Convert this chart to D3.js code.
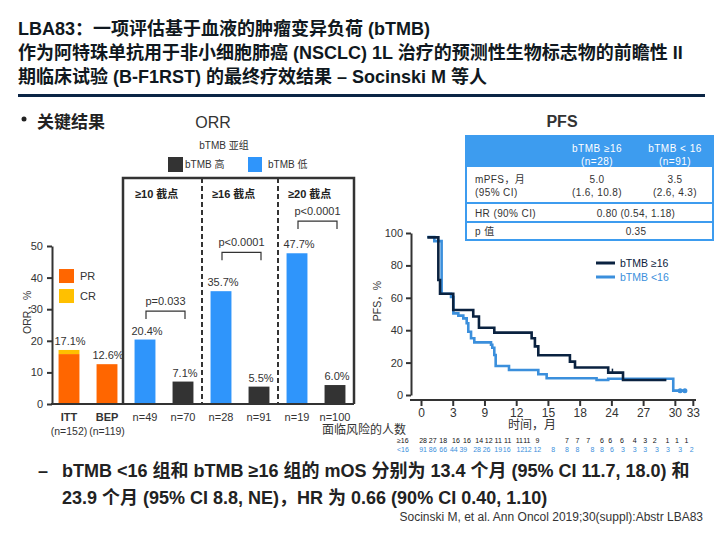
<!DOCTYPE html>
<html><head><meta charset="utf-8">
<script src="https://cdn.jsdelivr.net/npm/d3@7"></script>
<style>
body{margin:0;background:#fff;}
svg{font-family:"Liberation Sans","Noto Sans CJK SC",Arial,sans-serif;}
</style></head>
<body><svg id="c" width="720" height="540"></svg>
<script>
// ---------- DATA ----------
const titleLines = [
  "LBA83：一项评估基于血液的肿瘤变异负荷 (bTMB)",
  "作为阿特珠单抗用于非小细胞肺癌 (NSCLC) 1L 治疗的预测性生物标志物的前瞻性 II",
  "期临床试验 (B-F1RST) 的最终疗效结果 – Socinski M 等人"
];
const orrCats = ["ITT","BEP","n=49","n=70","n=28","n=91","n=19","n=100"];
const orrGroups = ["all","all","high","low","high","low","high","low"];
const orrPR = [15.8, 12.6, 20.4, 7.1, 35.7, 5.5, 47.7, 6.0];
const orrCR = [1.3, 0, 0, 0, 0, 0, 0, 0];
const orrLabels = ["17.1%","12.6%","20.4%","7.1%","35.7%","5.5%","47.7%","6.0%"];
const orrSubLabels = ["(n=152)","(n=119)"];
const orrTicks = [0,10,20,30,40,50];
const cutoffs = ["≥10 截点","≥16 截点","≥20 截点"];
const pTests = [
  {a:2, b:3, text:"p=0.033", level:29.4},
  {a:4, b:5, text:"p<0.0001", level:48},
  {a:6, b:7, text:"p<0.0001", level:57.9}
];
const tableHeader = [["bTMB ≥16","(n=28)"],["bTMB < 16","(n=91)"]];
const tableRows = [
  {label:["mPFS，月","(95% CI)"], hi:["5.0","(1.6, 10.8)"], lo:["3.5","(2.6, 4.3)"]},
  {label:["HR (90% CI)"], both:"0.80 (0.54, 1.18)"},
  {label:["p 值"], both:"0.35"}
];
const kmHigh = [[0.6,97.3],[1.64,71],[1.8,62.5],[3.05,52.5],[4.94,48.5],[5.48,41.5],[6.93,38.5],[10.46,35],[10.77,30],[11.09,24.5],[14.08,20.6],[14.56,17],[17.7,13.8],[19.1,9.3],[23.2,9.3]];
const kmLow = [[0.6,97.5],[1.26,95],[1.95,62.5],[2.84,60.5],[3.06,50.4],[3.53,49],[4.0,47.3],[4.32,44.3],[4.47,39],[4.73,35],[5.04,32.5],[6.62,31],[6.74,29.2],[6.93,24.7],[7.06,17.9],[8.32,15.4],[11.09,12.8],[11.88,10.3],[16.6,9.3],[17.7,10.0],[23.85,2.7],[24.95,2.7]];
const censorHigh = [[18.1,13.8]];
const censorLow = [[24.5,2.7],[24.95,2.7]];
const kmTickVals = [0,3,6,9,12,15,18,21,24,25.7];
const kmTickLabels = ["0","3","9","12","15","18","24","27","30","33"];
const kmYTicks = [0,20,40,60,80,100];
const riskHigh = [28,27,18,16,16,14,12,11,11,11,11,9,7,7,7,6,6,6,4,3,2,1,1,1];
const riskHighT = [0.2,1.1,2.1,3.3,4.35,5.5,6.4,7.3,8.2,9.3,10.0,11.0,13.8,14.8,15.8,17.1,17.9,19.0,20.2,21.2,22.1,23.3,24.2,25.1];
const riskLow = [91,86,66,44,39,28,26,19,16,12,12,12,8,8,8,8,8,6,3,3,3,3,3,3,2];
const riskLowT = [0.2,1.1,2.1,3.1,4.0,5.3,6.2,7.3,8.1,9.4,10.1,11.0,12.5,13.8,14.8,16.2,17.1,18.05,19.1,20.2,21.2,22.3,23.35,24.5,25.6];
const footLines = [
  "bTMB <16 组和 bTMB ≥16 组的 mOS 分别为 13.4 个月 (95% CI 11.7, 18.0) 和",
  "23.9 个月 (95% CI 8.8, NE)，HR 为 0.66 (90% CI 0.40, 1.10)"
];
const citation = "Socinski M, et al. Ann Oncol 2019;30(suppl):Abstr LBA83";

// ---------- STYLE ----------
const C = {navy:"#0b2545", text:"#333333", orange:"#ff6600", yellow:"#ffc000", blue:"#2f95fb", dark:"#333333",
  kmHi:"#0a2240", kmLo:"#3b8fdc", tblBlue:"#3d9cef"};
const svg = d3.select("#c");

// ---------- TITLE ----------
svg.append("g").selectAll("text").data(titleLines).join("text")
  .attr("x",18).attr("y",(d,i)=>35+i*24)
  .attr("font-size",18).attr("font-weight","bold").attr("fill","#101820").text(d=>d);
svg.append("rect").attr("x",18).attr("y",94).attr("width",687).attr("height",3).attr("fill",C.navy);

svg.append("circle").attr("cx",24).attr("cy",119).attr("r",2.5).attr("fill","#222");
svg.append("text").attr("x",37).attr("y",128).attr("font-size",17).attr("font-weight","bold").attr("fill","#222").text("关键结果");
svg.append("text").attr("x",213).attr("y",128).attr("text-anchor","middle").attr("font-size",16).attr("fill","#333").text("ORR");
svg.append("text").attr("x",562).attr("y",127).attr("text-anchor","middle").attr("font-size",16).attr("font-weight","bold").attr("fill","#333").text("PFS");

// ---------- ORR CHART ----------
const xO = d3.scaleBand().domain(orrCats).range([50,354]).paddingInner(0.45).paddingOuter(0.225);
const yO = d3.scaleLinear().domain([0,50]).range([404,246]);
const gO = svg.append("g");
const colorOf = g => g==="all"?C.orange:(g==="high"?C.blue:C.dark);

gO.selectAll("rect.pr").data(orrCats).join("rect").attr("class","pr")
  .attr("x",d=>xO(d)).attr("width",xO.bandwidth())
  .attr("y",(d,i)=>yO(orrPR[i])).attr("height",(d,i)=>yO(0)-yO(orrPR[i]))
  .attr("fill",(d,i)=>colorOf(orrGroups[i]));
gO.selectAll("rect.cr").data(orrCats.filter((d,i)=>orrCR[i]>0)).join("rect").attr("class","cr")
  .attr("x",d=>xO(d)).attr("width",xO.bandwidth())
  .attr("y",d=>{const i=orrCats.indexOf(d);return yO(orrPR[i]+orrCR[i]);})
  .attr("height",d=>{const i=orrCats.indexOf(d);return yO(orrPR[i])-yO(orrPR[i]+orrCR[i]);})
  .attr("fill",C.yellow);
gO.selectAll("text.val").data(orrCats).join("text").attr("class","val")
  .attr("x",d=>xO(d)+xO.bandwidth()/2+ (orrGroups[orrCats.indexOf(d)]==="all"?1:2))
  .attr("y",(d,i)=>yO(orrPR[i]+orrCR[i])-5)
  .attr("text-anchor","middle").attr("font-size",11).attr("fill",C.text).text((d,i)=>orrLabels[i]);

// y axis
const ayO = gO.append("g").attr("transform","translate(52,0)")
  .call(d3.axisLeft(yO).tickValues(orrTicks).tickSize(5).tickSizeOuter(0));
ayO.select(".domain").attr("stroke","#333").attr("stroke-width",2);
ayO.selectAll(".tick line").attr("stroke","#333").attr("stroke-width",2);
ayO.selectAll(".tick text").attr("font-size",11).attr("fill",C.text).attr("x",-9).attr("font-family","Liberation Sans");
// x baseline
gO.append("line").attr("x1",51).attr("x2",xO.range()[1]).attr("y1",yO(0)).attr("y2",yO(0)).attr("stroke","#333").attr("stroke-width",2);
gO.append("text").attr("transform",`translate(31,${yO(29)}) rotate(-90)`).attr("text-anchor","middle")
  .attr("font-size",10.5).attr("fill",C.text).text("ORR，%");

// category labels
gO.selectAll("text.cat").data(orrCats).join("text").attr("class","cat")
  .attr("x",d=>xO(d)+xO.bandwidth()/2).attr("y",421).attr("text-anchor","middle")
  .attr("font-size",11).attr("font-weight",(d,i)=>orrGroups[i]==="all"?"bold":"normal")
  .attr("fill",C.text).text(d=>d);
gO.selectAll("text.sub").data(orrSubLabels).join("text").attr("class","sub")
  .attr("x",(d,i)=>xO(orrCats[i])+xO.bandwidth()/2).attr("y",435).attr("text-anchor","middle")
  .attr("font-size",10.5).attr("fill",C.text).text(d=>d);

// PR / CR legend
const legO = [{t:"PR",c:C.orange},{t:"CR",c:C.yellow}];
legO.forEach((l,i)=>{
  gO.append("rect").attr("x",59).attr("y",yO(40.5)-7 + i*20).attr("width",15).attr("height",14).attr("fill",l.c);
  gO.append("text").attr("x",80).attr("y",yO(40.5)+4+i*20).attr("font-size",11).attr("fill",C.text).text(l.t);
});

// box with cutoffs
const step = xO.step();
const bounds = [2,4,6].map(i=>xO(orrCats[i]) - (step-xO.bandwidth())/2);
const boxL = bounds[0]-3, boxR = xO.range()[1], boxT = 178;
gO.append("path").attr("d",`M${boxL},${yO(0)}V${boxT}H${boxR}V${yO(0)}`).attr("fill","none").attr("stroke","#333").attr("stroke-width",2.5);
[bounds[1],bounds[2]].forEach(b=>{
  gO.append("line").attr("x1",b).attr("x2",b).attr("y1",boxT).attr("y2",yO(0)).attr("stroke","#333").attr("stroke-width",2).attr("stroke-dasharray","5,3");
});
cutoffs.forEach((c,i)=>{
  const lx = i===0?boxL+12:[bounds[1],bounds[2]][i-1]+10;
  gO.append("text").attr("x",lx).attr("y",198).attr("font-size",11).attr("font-weight","bold").attr("fill","#222").text(c);
});
// p brackets
pTests.forEach(p=>{
  const x1 = xO(orrCats[p.a])+xO.bandwidth()/2+1, x2 = xO(orrCats[p.b])+xO.bandwidth()/2+2;
  const y = yO(p.level);
  gO.append("path").attr("d",`M${x1},${y+8}V${y}H${x2}V${y+8}`).attr("fill","none").attr("stroke","#333").attr("stroke-width",1.2);
  gO.append("text").attr("x",(x1+x2)/2).attr("y",y-6).attr("text-anchor","middle").attr("font-size",11).attr("fill",C.text).text(p.text);
});

// top legend
gO.append("text").attr("x",224).attr("y",149).attr("text-anchor","middle").attr("font-size",10).attr("fill",C.text).text("bTMB 亚组");
gO.append("rect").attr("x",168).attr("y",157).attr("width",15).attr("height",15).attr("fill",C.dark);
gO.append("text").attr("x",185).attr("y",168).attr("font-size",10).attr("fill",C.text).text("bTMB 高");
gO.append("rect").attr("x",248).attr("y",157).attr("width",14).attr("height",15).attr("fill",C.blue);
gO.append("text").attr("x",268).attr("y",168).attr("font-size",10).attr("fill",C.text).text("bTMB 低");

// ---------- PFS TABLE ----------
const gT = svg.append("g");
const tL=466,tR=713,tT=136,hB=167, rowB=[203,222,240];
const colX = [597,675];
gT.append("rect").attr("x",tL).attr("y",tT).attr("width",tR-tL).attr("height",hB-tT).attr("fill",C.tblBlue);
gT.append("rect").attr("x",tL).attr("y",tT).attr("width",tR-tL).attr("height",rowB[2]-tT).attr("fill","none").attr("stroke",C.tblBlue).attr("stroke-width",2);
rowB.slice(0,2).forEach(y=>gT.append("line").attr("x1",tL).attr("x2",tR).attr("y1",y).attr("y2",y).attr("stroke",C.tblBlue).attr("stroke-width",2));
tableHeader.forEach((h,i)=>h.forEach((t,j)=>{
  gT.append("text").attr("x",colX[i]).attr("y",152+j*13).attr("text-anchor","middle").attr("font-size",10).attr("fill","#fff").attr("letter-spacing",0.5).text(t);
}));
const rowTop=[hB,rowB[0],rowB[1]];
tableRows.forEach((r,k)=>{
  const mid=(rowTop[k]+rowB[k])/2;
  const n=r.label.length;
  r.label.forEach((t,j)=>gT.append("text").attr("x",475).attr("y",mid+4+(j-(n-1)/2)*13).attr("font-size",10).attr("fill",C.text).attr("letter-spacing",0.4).text(t));
  if(r.both){
    gT.append("text").attr("x",636).attr("y",mid+4).attr("text-anchor","middle").attr("font-size",10).attr("fill",C.text).attr("letter-spacing",0.3).text(r.both);
  } else {
    [r.hi,r.lo].forEach((arr,i)=>arr.forEach((t,j)=>gT.append("text").attr("x",colX[i]).attr("y",mid+4+(j-(arr.length-1)/2)*13).attr("text-anchor","middle").attr("font-size",10).attr("fill",C.text).attr("letter-spacing",0.4).text(t)));
  }
});

// ---------- KM CHART ----------
const xK = d3.scaleLinear().domain([0,26]).range([421,696]);
const yK = d3.scaleLinear().domain([0,100]).range([395,233]);
const gK = svg.append("g");
const line = d3.line().x(d=>xK(d[0])).y(d=>yK(d[1])).curve(d3.curveStepAfter);
gK.append("path").datum(kmLow).attr("d",line).attr("fill","none").attr("stroke",C.kmLo).attr("stroke-width",2.6);
gK.append("path").datum(kmHigh).attr("d",line).attr("fill","none").attr("stroke",C.kmHi).attr("stroke-width",2.6);
gK.selectAll("line.ch").data(censorHigh).join("line").attr("x1",d=>xK(d[0])).attr("x2",d=>xK(d[0])).attr("y1",d=>yK(d[1])).attr("y2",d=>yK(d[1])-4).attr("stroke",C.kmHi).attr("stroke-width",1.5);
gK.selectAll("circle.cl").data(censorLow).join("circle").attr("cx",d=>xK(d[0])).attr("cy",d=>yK(d[1])).attr("r",2.5).attr("fill",C.kmLo);

const ayK = gK.append("g").attr("transform","translate(411,0)")
  .call(d3.axisLeft(yK).tickValues(kmYTicks).tickSize(5).tickSizeOuter(0));
ayK.select(".domain").attr("stroke","#333").attr("stroke-width",2);
ayK.selectAll(".tick line").attr("stroke","#333").attr("stroke-width",2);
ayK.selectAll(".tick text").attr("font-size",11).attr("fill",C.text).attr("x",-8);
const axK = gK.append("g").attr("transform","translate(0,400)")
  .call(d3.axisBottom(xK).tickValues(kmTickVals).tickFormat((d,i)=>kmTickLabels[i]).tickSize(6).tickSizeOuter(0));
axK.select(".domain").remove();
axK.selectAll(".tick line").attr("stroke","#333").attr("stroke-width",2);
axK.selectAll(".tick text").attr("font-size",12).attr("fill",C.text).attr("y",8);
gK.append("line").attr("x1",410).attr("x2",xK(26)).attr("y1",400).attr("y2",400).attr("stroke","#333").attr("stroke-width",2);
gK.append("text").attr("transform",`translate(381,${yK(58)}) rotate(-90)`).attr("text-anchor","middle").attr("font-size",10.5).attr("fill",C.text).text("PFS，%");
gK.append("text").attr("x",532).attr("y",429).attr("text-anchor","middle").attr("font-size",12).attr("fill",C.text).text("时间，月");
gK.append("text").attr("x",364).attr("y",434).attr("text-anchor","middle").attr("font-size",12).attr("fill",C.text).text("面临风险的人数");

// KM legend
[{t:"bTMB ≥16",c:C.kmHi,y:263},{t:"bTMB <16",c:C.kmLo,y:277}].forEach(l=>{
  gK.append("line").attr("x1",596).attr("x2",615).attr("y1",l.y).attr("y2",l.y).attr("stroke",l.c).attr("stroke-width",3);
  gK.append("text").attr("x",620).attr("y",l.y+4).attr("font-size",10.5).attr("fill",l.c).text(l.t);
});

// at risk
gK.append("text").attr("x",397).attr("y",443).attr("font-size",7).attr("fill","#111").text("≥16");
gK.append("text").attr("x",397).attr("y",452).attr("font-size",7).attr("fill",C.kmLo).text("<16");
gK.selectAll("text.rh").data(riskHigh).join("text").attr("class","rh").attr("x",(d,i)=>xK(riskHighT[i])).attr("y",443).attr("text-anchor","middle").attr("font-size",7).attr("fill","#111").text(d=>d);
gK.selectAll("text.rl").data(riskLow).join("text").attr("class","rl").attr("x",(d,i)=>xK(riskLowT[i])).attr("y",452).attr("text-anchor","middle").attr("font-size",7).attr("fill",C.kmLo).text(d=>d);

// ---------- FOOTNOTE ----------
svg.append("text").attr("x",38).attr("y",477).attr("font-size",18).attr("font-weight","bold").attr("fill","#222").text("–");
svg.selectAll("text.foot").data(footLines).join("text").attr("class","foot")
  .attr("x",62).attr("y",(d,i)=>477+i*27).attr("font-size",18).attr("font-weight","bold").attr("fill","#222").text(d=>d);
svg.append("text").attr("x",703).attr("y",521).attr("text-anchor","end").attr("font-size",12).attr("fill","#333").text(citation);
</script></body></html>
